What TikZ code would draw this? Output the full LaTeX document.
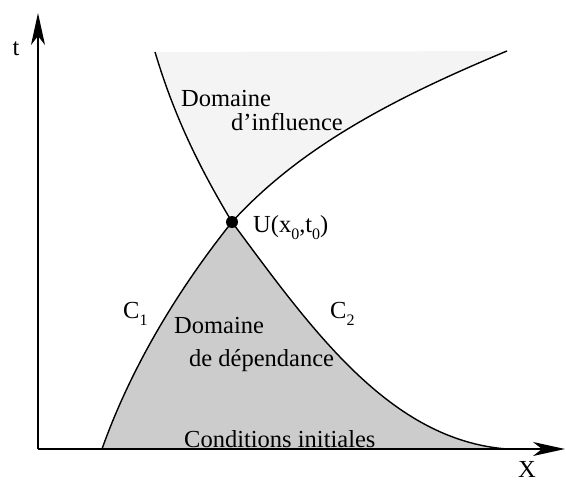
\documentclass[tikz,border=0pt]{standalone}
\usepackage{fontspec}
\setmainfont{Liberation Serif}
\usetikzlibrary{arrows.meta}
\newcommand{\mysub}[1]{\raisebox{-0.3em}{\fontsize{16}{16}\selectfont #1}}
\begin{document}
\begin{tikzpicture}[x=1pt,y=-1pt,
  axis/.style={line width=1.6pt,-{Stealth[length=32pt,width=14pt,inset=9pt]}},
  curve/.style={line width=1.4pt},
  lbl/.style={inner sep=0pt,font=\fontsize{24.5}{27}\selectfont}]
\useasboundingbox (0,0) rectangle (566,482);
% key points
\coordinate (O) at (38,449);
\coordinate (Ttip) at (38,13);
\coordinate (Xtip) at (565,449);
\coordinate (U) at (232,222);
\coordinate (A) at (102,449);
\coordinate (B) at (507,449);
\coordinate (L) at (155,52);
\coordinate (R) at (507,51);
% shaded regions
\fill[gray!9] (L) .. controls (173,112) and (196,162) .. (U)
   .. controls (302,145) and (399,96) .. (R) -- cycle;
\fill[gray!40] (A) .. controls (130,370) and (176,292) .. (U)
   .. controls (312,330) and (390,440) .. (B) -- cycle;
% curves
\draw[curve] (A) .. controls (130,370) and (176,292) .. (U);
\draw[curve] (U) .. controls (312,330) and (390,440) .. (B);
\draw[curve] (L) .. controls (173,112) and (196,162) .. (U);
\draw[curve] (U) .. controls (302,145) and (399,96) .. (R);
% axes
\draw[axis] (O) -- (Ttip);
\draw[axis] (O) -- (Xtip);
% point
\node[circle,fill=black,minimum size=12pt,inner sep=0pt] (Udot) at (U) {};
% labels
\node[lbl,anchor=base] (tlab) at (16,55) {t};
\node[lbl,anchor=base] (xlab) at (527,477) {X};
\node[lbl,anchor=base west] (dinf1) at (181,106) {Domaine};
\node[lbl,anchor=base west] (dinf2) at (231,130) {d’influence};
\node[lbl,anchor=base west] (ulab) at (253,232) {U(x\mysub{0},t\mysub{0})};
\node[lbl,anchor=base west] (c1) at (123,318) {C\mysub{1}};
\node[lbl,anchor=base west] (c2) at (330,318) {C\mysub{2}};
\node[lbl,anchor=base west] (ddep1) at (174,333) {Domaine};
\node[lbl,anchor=base west] (ddep2) at (189,366) {de dépendance};
\node[lbl,anchor=base west] (cond) at (184,447) {Conditions initiales};
\end{tikzpicture}
\end{document}
